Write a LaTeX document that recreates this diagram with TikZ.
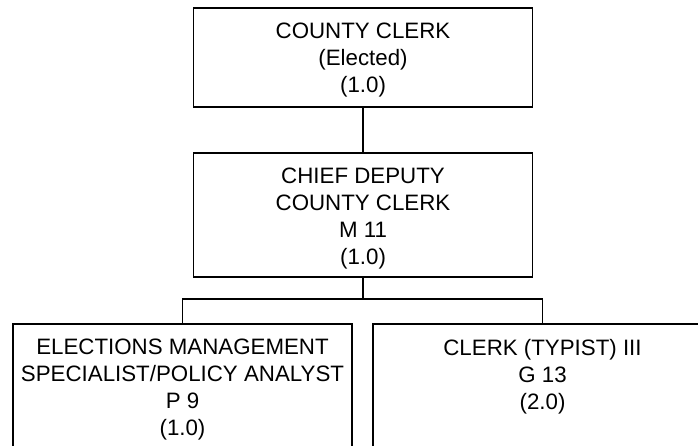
\documentclass[tikz,border=0pt]{standalone}
\usepackage{fontspec}
\setmainfont{Liberation Sans}
\newcommand{\postlines}[2]{\parbox[c][#1][t]{330pt}{\centering #2}}
\begin{document}
\begin{tikzpicture}[x=1pt,y=-1pt,
  post/.style={draw,line width=1.7pt,inner xsep=4.5pt,inner ysep=15pt,anchor=north,
    font=\fontsize{22.3}{27}\selectfont},
  link/.style={line width=1.3pt}]
\useasboundingbox (0,0) rectangle (698,445);
\clip (0,0) rectangle (698,445);
\node [post] (clerk) at (363,7) {\postlines{69pt}{COUNTY CLERK\\(Elected)\\(1.0)}};
\node [post] (deputy) at (363,152) {\postlines{94pt}{CHIEF DEPUTY\\COUNTY CLERK\\M 11\\(1.0)}};
\node [post] (elections) at (182.5,323) {\postlines{150pt}{ELECTIONS MANAGEMENT\\SPECIALIST/POLICY ANALYST\\P 9\\(1.0)}};
\node [post] (typist) at (542.5,323) {\postlines{150pt}{CLERK (TYPIST) III\\G 13\\(2.0)}};
\coordinate (fork) at (363,299);
\draw [link] (clerk.south) -- (deputy.north);
\draw [link] (deputy.south) -- (fork);
\draw [link] (elections.north) |- (fork) -| (typist.north);
\end{tikzpicture}
\end{document}
